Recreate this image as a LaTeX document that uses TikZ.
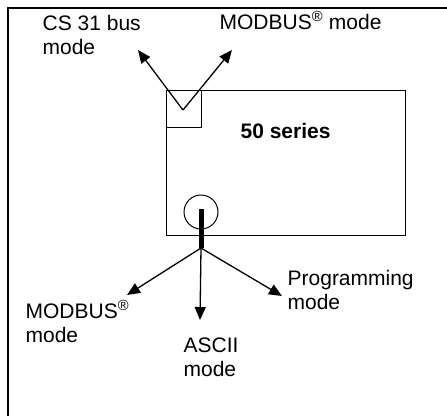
\documentclass[tikz,border=0pt]{standalone}
\usepackage{fontspec}
\setmainfont{Liberation Sans}
\usetikzlibrary{arrows.meta}
\begin{document}
\begin{tikzpicture}[x=1pt,y=-1pt,line width=1.3pt,
  every node/.style={inner sep=0pt,font=\fontsize{21}{24.5}\selectfont},
  lbl/.style={anchor=base west,align=left},
  box/.style={draw,line width=1pt,anchor=north west},
  ar/.style={-{Triangle[length=13pt,width=11pt]}}]
\useasboundingbox (0,0) rectangle (447,416);
\draw[line width=2.3pt] (447,8) -- (8,8) -- (8,416);
\node[box,minimum width=239pt,minimum height=145pt] (unit) at (166,90) {};
\node[box,minimum width=35pt,minimum height=37pt] (sel) at (166,90) {};
\node[anchor=base west,font=\bfseries\fontsize{21}{24.5}\selectfont] (name) at (240,138) {50 series};
\node[draw,circle,line width=1pt,minimum size=34pt] (port) at (201,212) {};

\coordinate (vtx) at (183,110);
\coordinate (tcs) at (138,50);
\coordinate (tmb) at (232,50);
\coordinate (bartop) at (201,209);
\coordinate (hub) at (201,248);
\coordinate (tmbb) at (127,295);
\coordinate (tascii) at (200,320);
\coordinate (tprog) at (282,296);

\node[lbl] (cs) at (42,54.5) {CS 31 bus\\mode};
\node[lbl] (mbtop) at (219,29) {MODBUS\textsuperscript{\textregistered} mode};
\node[lbl] (prog) at (287,309.5) {Programming\\mode};
\node[lbl] (mbbot) at (25,342.5) {MODBUS\textsuperscript{\textregistered}\\mode};
\node[lbl] (ascii) at (183,376.5) {ASCII\\mode};

\draw[ar] (vtx) -- (tcs);
\draw[ar] (vtx) -- (tmb);
\draw[line width=5pt] (bartop) -- (hub);
\draw[ar] (hub) -- (tmbb);
\draw[ar] (hub) -- (tascii);
\draw[ar] (hub) -- (tprog);
\end{tikzpicture}
\end{document}
